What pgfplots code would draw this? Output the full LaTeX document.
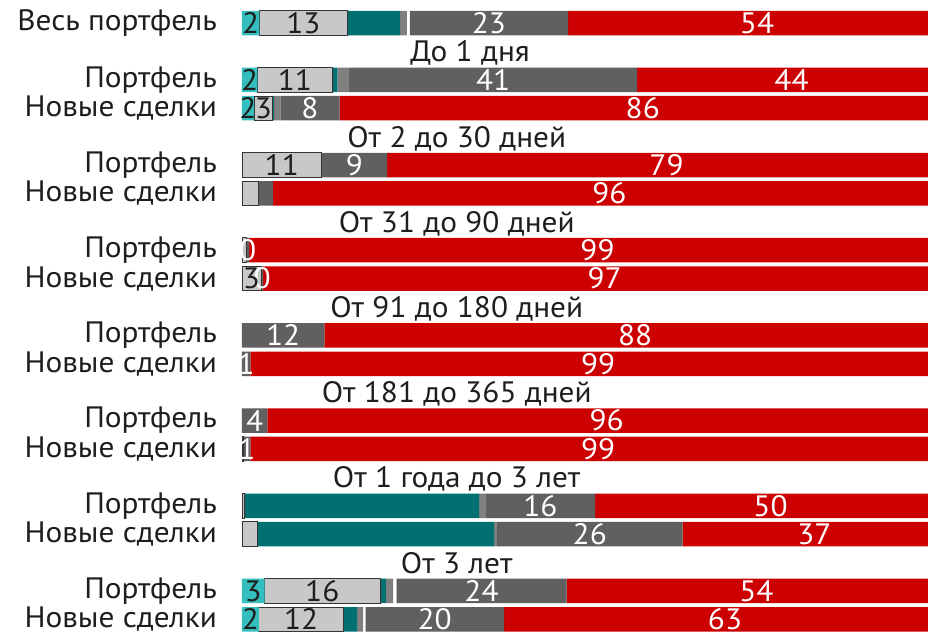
\documentclass[border=0pt]{standalone}
\usepackage{fontspec}
\setmainfont{PT Sans}[FakeStretch=1.06]
\usepackage{pgfplots}
\pgfplotsset{compat=1.18}

\definecolor{cCyan}{RGB}{52,190,190}
\definecolor{cLight}{RGB}{200,200,200}
\definecolor{cTeal}{RGB}{0,112,112}
\definecolor{cMid}{RGB}{128,128,128}
\definecolor{cDark}{RGB}{96,96,96}
\definecolor{cRed}{RGB}{204,0,0}
\definecolor{cText}{RGB}{30,30,30}
\newcommand{\chartfont}{\fontsize{29.5}{30}\selectfont}

\begin{document}
\begin{tikzpicture}
% the reference is cut off at the right, so the axis runs past the picture edge
\useasboundingbox (-242pt,0) rectangle (686pt,633pt);
\clip (-242pt,0) rectangle (686pt,633pt);
\begin{axis}[
    at={(0,0)}, anchor=south west,
    xbar stacked,
    scale only axis,
    width=704pt, height=633pt,
    xmin=0, xmax=100,
    ymin=-0.81, ymax=21.48,
    y dir=reverse,
    bar width=24.5pt,
    axis line style={draw=none},
    major tick length=0pt,
    xtick=\empty,
    ytick={0,2,3,5,6,8,9,11,12,14,15,17,18,20,21},
    yticklabels={Весь портфель,Портфель,Новые сделки,Портфель,Новые сделки,Портфель,Новые сделки,Портфель,Новые сделки,Портфель,Новые сделки,Портфель,Новые сделки,Портфель,Новые сделки},
    yticklabel style={font=\chartfont, text=cText, inner sep=0pt, xshift=-25pt},
    lbl/.style={nodes near coords, point meta=explicit symbolic,
        every node near coord/.append style={font=\chartfont, inner sep=0pt, anchor=center}},
]
% cyan
\addplot[fill=cCyan, draw=none, lbl, every node near coord/.append style={text=cText}] coordinates {
(2.46,0)[2] (2.2,2)[2] (1.7,3)[2] (0,5)[] (0,6)[] (0,8)[] (0,9)[] (0,11)[] (0,12)[] (0,14)[] (0,15)[] (0,17)[] (0,18)[] (3.2,20)[3] (2.4,21)[2]
};
% light gray
\addplot[fill=cLight, draw=cText!90, line width=0.9pt, lbl, every node near coord/.append style={text=cText}] coordinates {
(12.5,0)[13] (10.65,2)[11] (2.65,3)[3] (11.3,5)[11] (2.3,6)[] (0.6,8)[] (2.7,9)[3] (0,11)[] (0,12)[] (0,14)[] (0.2,15)[] (0.4,17)[] (2.2,18)[] (16.4,20)[16] (12.0,21)[12]
};
% teal
\addplot[fill=cTeal, draw=none] coordinates {
(7.5,0) (0.7,2) (0.2,3) (0,5) (0,6) (0,8) (0,9) (0,11) (0,12) (0,14) (0,15) (33.3,17) (33.6,18) (0.85,20) (1.94,21)
};
% mid gray
\addplot[fill=cMid, draw=none] coordinates {
(0.95,0) (1.66,2) (0.9,3) (0,5) (0,6) (0,8) (0,9) (0,11) (0,12) (0,14) (0,15) (0.95,17) (0.4,18) (1.0,20) (0.85,21)
};
% white
\addplot[fill=white, draw=none] coordinates {
(0.4,0) (0,2) (0,3) (0,5) (0,6) (0,8) (0,9) (0,11) (0,12) (0,14) (0,15) (0,17) (0,18) (0.47,20) (0.33,21)
};
% dark gray
\addplot[fill=cDark, draw=none, lbl, every node near coord/.append style={text=white}] coordinates {
(22.5,0)[23] (40.9,2)[41] (8.4,3)[8] (9.3,5)[9] (2.1,6)[] (0.4,8)[0] (0.3,9)[0] (11.7,11)[12] (1.2,12)[1] (3.6,14)[4] (1.0,15)[1] (15.5,17)[16] (26.4,18)[26] (24.2,20)[24] (19.7,21)[20]
};
% red
\addplot[fill=cRed, draw=none, lbl, every node near coord/.append style={text=white}] coordinates {
(53.69,0)[54] (43.89,2)[44] (86.15,3)[86] (79.4,5)[79] (95.6,6)[96] (99.0,8)[99] (97.0,9)[97] (88.3,11)[88] (98.8,12)[99] (96.4,14)[96] (98.8,15)[99] (49.85,17)[50] (37.4,18)[37] (53.88,20)[54] (62.78,21)[63]
};
\node[font=\chartfont, text=cText, anchor=base] at (axis cs:32.4,1.37) {До 1 дня};
\node[font=\chartfont, text=cText, anchor=base] at (axis cs:30.5,4.37) {От 2 до 30 дней};
\node[font=\chartfont, text=cText, anchor=base] at (axis cs:30.5,7.37) {От 31 до 90 дней};
\node[font=\chartfont, text=cText, anchor=base] at (axis cs:30.5,10.37) {От 91 до 180 дней};
\node[font=\chartfont, text=cText, anchor=base] at (axis cs:30.5,13.37) {От 181 до 365 дней};
\node[font=\chartfont, text=cText, anchor=base] at (axis cs:30.5,16.37) {От 1 года до 3 лет};
\node[font=\chartfont, text=cText, anchor=base] at (axis cs:30.5,19.37) {От 3 лет};
\end{axis}
\end{tikzpicture}
\end{document}
